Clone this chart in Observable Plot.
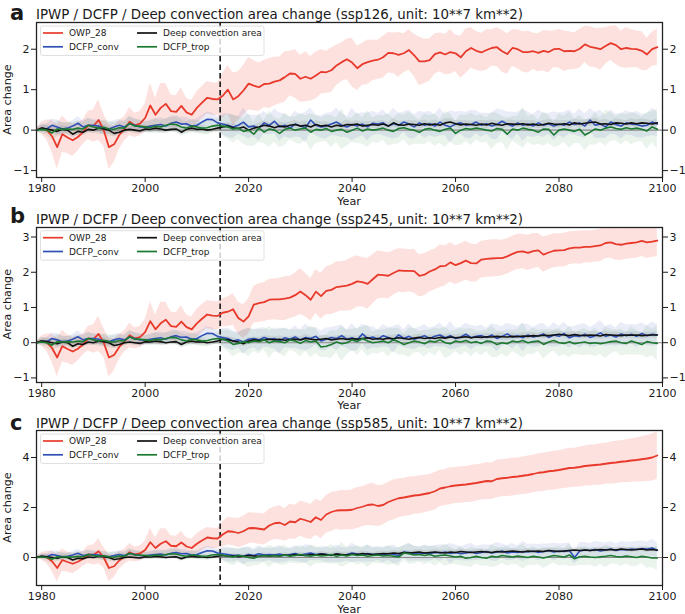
<!DOCTYPE html>
<html>
<head>
<meta charset="utf-8">
<script src="https://cdn.jsdelivr.net/npm/d3@7"></script>
<script src="https://cdn.jsdelivr.net/npm/@observablehq/plot@0.6"></script>
<style>
  body { margin: 0; background: #fff; }
  #root { position: relative; width: 685px; height: 614px; overflow: hidden; background: #fff; font-family: "DejaVu Sans", sans-serif; }
</style>
</head>
<body>
<div id="root"></div>
<script>
// ---------------- DATA (values in hundredths of 10**7 km**2) ----------------
const firstYear = 1979;          // first simulated year
const lastHistYear = 2014;       // end of historical period
const xTicks = [1980, 2000, 2020, 2040, 2060, 2080, 2100];
const seriesNames = ["OWP_28", "DCFP_conv", "Deep convection area", "DCFP_trop"];
const scenarios = ["ssp126", "ssp245", "ssp585"];

// Historical 1979-2014 (shared by all three panels)
const histOWP  = [0,5,0,-15,-42,-10,-18,-25,-17,-5, 12,10,25,0,-42,-35,-12,3,21,12, 16,30,61,38,55,65,47,45,60,44, 38,55,68,80,77,76];
const histConv = [0,5,3,12,8,3,5,10,17,8, 12,12,10,5,3,8,12,8,16,12, 8,7,10,12,14,10,17,20,15,16, 10,12,20,27,26,18];
const histDeep = [0,5,3,0,-3,2,0,-10,-3,-5, 2,0,5,3,0,-8,-5,0,2,0, -2,3,2,5,3,0,2,3,-5,2, 5,2,3,0,2,5];
const histTrop = [0,2,0,-7,3,2,3,2,5,3, 12,8,5,7,3,2,6,5,17,10, 10,8,6,10,8,12,15,14,8,5, 10,8,5,6,10,12];
// Historical spread (half-width of shading)
const histOWPsd  = [3,15,25,40,55,45,40,40,35,30, 35,40,50,40,55,45,35,30,35,30, 30,35,55,40,60,50,40,40,45,35, 35,40,40,40,40,40];
const histConvSd = [5,10,12,15,18,15,12,14,16,15, 18,14,15,17,14,16,15,14,17,16, 15,13,15,16,17,16,18,15,17,15, 14,16,17,18,16,15];
const histDeepSd = [3,6,8,9,10,8,9,10,9,8, 9,8,9,10,8,9,10,9,8,9, 8,9,8,9,10,9,8,9,10,9, 8,9,10,9,8,9];
const histTropSd = [5,10,14,18,20,16,15,17,18,16, 17,15,16,18,20,17,16,15,18,17, 16,14,15,18,16,17,15,20,18,16, 17,15,16,18,17,16];

// Future 2015-2099, ssp126
const owp126 = [85,100,76,84,98,115,110,106,114,115, 120,123,131,140,139,127,132,127,135,144, 143,148,160,168,175,167,153,163,168,172, 174,180,191,190,186,190,198,185,170,170, 173,188,192,187,193,190,180,195,203,196, 192,198,203,205,195,188,203,200,193,193, 195,191,196,193,200,201,195,196,195,201, 212,206,203,200,208,215,210,200,203,201, 200,196,187,200,205];
const conv126 = [15,12,8,12,20,8,10,5,18,12, 22,8,12,5,15,10,6,25,12,8, 10,15,20,12,8,14,10,15,8,17, 15,18,10,16,12,20,15,8,18,12, 16,10,20,12,8,15,18,12,14,20, 12,16,10,14,22,15,10,18,12,15, 10,18,12,16,10,15,12,20,14,18, 10,25,12,15,8,20,14,10,18,15, 14,10,12,20,15];
const deep126 = [8,10,6,4,8,0,5,8,12,10, 6,10,8,12,14,10,12,8,14,10, 12,8,12,10,14,13,15,10,12,14, 12,15,10,18,13,12,15,14,12,16, 13,15,12,18,20,16,13,15,14,12, 15,13,17,14,12,16,15,14,16,13, 15,12,14,17,15,14,16,13,18,15, 17,19,20,15,16,14,18,17,15,18, 16,18,17,15,18];
const trop126 = [10,8,3,5,-3,0,-10,5,-5,3, 0,-8,2,5,0,3,5,-5,2,0, 4,-3,0,2,-5,0,5,-2,3,0, 2,5,0,-3,4,6,2,0,-5,2, 4,0,-3,2,5,-8,0,4,2,5, 3,0,-2,4,2,-10,3,0,5,2, 0,-5,3,2,-12,0,3,0,-3,2, -12,-5,3,0,5,8,4,2,6,3, 5,2,-2,8,2];
const owpSd126 = [55,60,65,60,62,65,62,60,58,62, 60,58,62,55,60,58,62,55,58,55, 52,55,50,48,50,60,55,52,55,50, 48,52,50,50,55,48,50,52,60,55, 52,50,48,50,55,45,52,55,50,48, 47,50,45,48,52,50,45,48,50,52, 45,47,50,52,45,48,50,47,45,48, 45,50,48,52,45,42,48,45,50,47, 45,48,40,42,45];

// Future 2015-2099, ssp245
const owp245 = [85,88,95,70,60,75,108,112,115,122, 123,123,125,128,135,145,135,122,145,132, 147,150,158,160,162,167,174,172,167,180, 193,192,190,198,205,204,204,203,190,193, 202,208,217,218,228,220,226,233,226,225, 236,238,239,240,240,245,252,258,259,255, 260,262,250,256,261,262,263,268,270,270, 272,272,274,276,283,285,280,278,281,283, 285,289,285,287,290];
const conv245 = [15,12,5,8,2,10,12,8,15,10, 12,5,14,10,16,8,15,12,18,5, 10,15,12,20,10,14,8,25,12,16, 10,20,15,8,22,12,18,10,15,20, 12,18,22,14,20,12,16,24,14,18, 20,15,22,12,18,25,16,20,14,22, 16,20,25,15,22,18,26,14,20,18, 24,15,20,28,18,22,16,25,20,24, 18,26,20,24,22];
const deep245 = [10,8,5,2,-3,5,8,6,8,10, 8,10,7,9,10,8,12,10,8,10, 12,8,10,12,9,11,10,12,14,10, 12,10,13,11,14,12,10,13,15,12, 14,12,15,13,16,14,15,17,14,16, 15,17,16,18,17,16,18,17,19,18, 20,19,21,20,22,24,22,20,23,21, 20,22,21,19,23,22,21,20,22,21, 22,20,21,22,22];
const trop245 = [10,5,-5,-2,3,0,5,3,8,0, 5,3,0,8,5,-2,6,2,5,-12, -10,-5,2,-3,0,8,3,12,5,0, 2,5,0,8,3,-5,0,5,2,-3, 5,2,8,0,-3,5,2,6,0,3, -2,5,3,-5,0,-3,5,2,6,0, 3,5,-5,2,6,0,-2,3,-3,0, 2,-2,0,-3,0,3,5,0,-2,5, 0,-5,3,0,-2];
const owpSd245 = [40,42,45,45,48,50,52,55,55,58, 58,60,62,60,62,65,62,60,62,65, 68,70,72,70,72,75,73,70,72,70, 68,66,65,63,62,62,60,62,60,60, 58,58,60,57,56,55,55,55,54,53, 52,52,53,52,51,50,50,50,49,50, 50,48,50,48,48,47,48,47,46,47, 46,46,45,46,45,45,46,45,44,45, 45,44,45,45,45];

// Future 2015-2099, ssp585
const owp585 = [92,105,103,98,105,117,118,115,112,128, 137,139,130,144,141,155,149,142,161,150, 172,182,188,189,189,191,198,203,210,212, 206,210,222,230,237,240,244,248,250,254, 258,265,276,280,285,288,290,292,295,298, 302,306,305,314,317,319,322,324,327,330, 334,339,341,345,347,350,354,358,359,362, 366,368,370,372,375,378,380,383,385,388, 390,393,396,400,408];
const conv585 = [15,12,8,10,5,12,8,15,10,12, 10,14,8,12,16,10,14,18,12,15, 12,8,15,10,12,18,14,10,16,12, 14,10,16,12,8,22,20,16,14,18, 15,20,18,22,16,20,15,18,22,16, 20,24,18,22,26,18,22,20,24,22, 26,20,24,28,22,26,24,28,0,26, 30,28,32,26,30,34,28,32,30,34, 32,36,34,38,28];
const deep585 = [8,5,6,3,5,8,6,5,8,6, 8,6,10,8,12,10,8,12,10,14, 12,10,14,12,10,14,12,16,14,12, 14,16,15,18,16,20,18,20,22,18, 20,22,20,18,22,20,24,22,20,22, 24,22,20,24,22,24,26,24,22,26, 24,26,24,28,26,24,26,28,30,28, 30,28,30,32,30,32,30,34,32,30, 32,34,30,32,30];
const trop585 = [10,5,2,8,5,0,-3,5,8,5, 8,5,10,5,8,12,8,5,10,6, 8,12,5,10,6,12,8,10,5,8, 10,6,8,5,2,18,15,10,12,8, 12,5,8,10,6,2,5,-3,0,5, 0,-3,5,2,8,5,2,6,3,0, 5,2,-2,3,8,5,2,10,-5,3, 5,2,0,3,5,8,4,2,6,3, 0,5,2,-2,-2];
const owpSd585 = [50,55,55,58,60,62,60,62,62,65, 65,68,65,70,68,70,72,70,72,75, 75,78,75,80,78,80,82,80,82,85, 82,80,78,80,78,76,78,75,76,75, 74,75,73,72,74,72,73,72,74,73, 72,74,73,75,74,75,76,74,75,76, 75,76,77,76,78,77,78,79,78,80, 80,82,81,83,82,84,85,84,86,87, 88,90,92,94,95];

// Future spread of the three convection series (2015-2099)
const futConvSd = [25,30,28,22,35,30,26,32,28,24, 30,35,28,26,32,28,38,30,25,28, 32,28,35,30,26,40,30,28,34,30, 26,32,28,38,30,25,35,30,28,32, 30,28,34,26,40,30,28,32,35,28, 30,26,32,38,28,30,34,26,40,30, 28,32,30,26,35,28,32,30,26,34, 30,28,32,35,28,30,26,32,30,28, 32,30,28,34,30];
const futTropSd = [25,30,35,28,32,40,30,35,28,45, 30,35,40,28,32,38,30,45,35,30, 32,40,30,50,35,30,38,32,45,30, 35,30,40,32,38,30,42,35,30,38, 32,40,30,45,35,30,38,32,40,30, 35,30,45,38,32,40,30,35,50,32, 38,30,42,35,30,40,32,45,30,35, 38,32,40,30,45,35,30,38,32,40, 35,30,45,38,50];
const futDeepSd = [8,9,10,8,9,10,8,9,11,9, 8,10,9,8,10,9,11,8,9,10, 9,8,10,9,11,8,9,10,9,8, 10,9,8,11,9,10,8,9,10,9, 8,10,9,11,9,8,10,9,8,10, 9,10,8,9,11,9,10,8,9,10, 9,8,10,9,11,9,8,10,9,10, 8,9,10,9,11,8,10,9,8,10, 9,10,9,8,10];

// ---------------- STYLE / LAYOUT ----------------
const colors = {"OWP_28": "#e8392b", "DCFP_conv": "#3050b8", "Deep convection area": "#111111", "DCFP_trop": "#1b7a30"};
const bandOpacity = {"OWP_28": 0.15, "DCFP_conv": 0.1, "Deep convection area": 0.08, "DCFP_trop": 0.09};
const W = 685, mL = 36, mR = 23, mT = 4, mB = 30, frameH = 155;

const panels = [
  {letter: "a", scen: scenarios[0], owp: owp126, conv: conv126, deep: deep126, trop: trop126, owpSd: owpSd126,
   yDomain: [-1.17, 2.66], yTicks: [-1, 0, 1, 2], top: 22, letterY: 19.5, titleY: 19},
  {letter: "b", scen: scenarios[1], owp: owp245, conv: conv245, deep: deep245, trop: trop245, owpSd: owpSd245,
   yDomain: [-1.13, 3.27], yTicks: [-1, 0, 1, 2, 3], top: 226.7, letterY: 222.5, titleY: 224.3},
  {letter: "c", scen: scenarios[2], owp: owp585, conv: conv585, deep: deep585, trop: trop585, owpSd: owpSd585,
   yDomain: [-1.12, 5.08], yTicks: [0, 2, 4], top: 430, letterY: 429.5, titleY: 428.3}
];

function build(hist, fut, histSd, futSd) {
  const v = hist.concat(fut), s = histSd.concat(futSd);
  return v.map((d, i) => ({year: firstYear + i, v: d / 100, lo: (d - s[i]) / 100, hi: (d + s[i]) / 100}));
}

const root = d3.select("#root");

panels.forEach(p => {
  const series = [
    {name: "OWP_28", rows: build(histOWP, p.owp, histOWPsd, p.owpSd), w: 1.8},
    {name: "DCFP_conv", rows: build(histConv, p.conv, histConvSd, futConvSd), w: 1.6},
    {name: "Deep convection area", rows: build(histDeep, p.deep, histDeepSd, futDeepSd), w: 1.6},
    {name: "DCFP_trop", rows: build(histTrop, p.trop, histTropSd, futTropSd), w: 1.6}
  ];
  const marks = [];
  series.forEach(s => marks.push(Plot.areaY(s.rows, {x: "year", y1: "lo", y2: "hi", fill: colors[s.name], fillOpacity: bandOpacity[s.name], clip: true})));
  marks.push(Plot.ruleY([0], {stroke: "#8a8a8a", strokeWidth: 1.1}));
  marks.push(Plot.ruleX([lastHistYear + 0.5], {stroke: "#222", strokeWidth: 1.7, strokeDasharray: "5.5,3"}));
  series.forEach(s => marks.push(Plot.lineY(s.rows, {x: "year", y: "v", stroke: colors[s.name], strokeWidth: s.w, clip: true})));
  marks.push(Plot.frame({stroke: "#222", strokeWidth: 1.3}));
  marks.push(Plot.axisX({ticks: xTicks, tickFormat: d => String(d), tickSize: 5, tickPadding: 2, label: null}));
  marks.push(Plot.axisY({anchor: "left", ticks: p.yTicks, tickFormat: d3.format("d"), tickSize: 5, tickPadding: 2, label: null}));
  marks.push(Plot.axisY({anchor: "right", ticks: p.yTicks, tickFormat: d3.format("d"), tickSize: 5, tickPadding: 2, label: null}));

  const chart = Plot.plot({
    width: W, height: mT + frameH + mB,
    marginLeft: mL, marginRight: mR, marginTop: mT, marginBottom: mB,
    x: {domain: [firstYear, 2100]},
    y: {domain: p.yDomain},
    style: {fontFamily: "DejaVu Sans, sans-serif", fontSize: "11px", color: "#1a1a1a", background: "transparent", overflow: "visible"},
    marks
  });
  chart.style.position = "absolute";
  chart.style.left = "0px";
  chart.style.top = (p.top - mT) + "px";
  root.node().appendChild(chart);
});

// ---------------- TEXT OVERLAY ----------------
const ov = root.append("svg").attr("width", W).attr("height", 614)
  .style("position", "absolute").style("left", "0px").style("top", "0px")
  .style("font-family", "DejaVu Sans, sans-serif").attr("fill", "#1a1a1a");

const legendLayout = [
  {name: seriesNames[0], col: 0, row: 0},
  {name: seriesNames[1], col: 0, row: 1},
  {name: seriesNames[2], col: 1, row: 0},
  {name: seriesNames[3], col: 1, row: 1}
];
const colX = [43, 137];

panels.forEach(p => {
  const bottom = p.top + frameH;
  ov.append("text").attr("x", 10).attr("y", p.letterY).attr("font-size", 21).attr("font-weight", "bold").text(p.letter);
  ov.append("text").attr("x", 36).attr("y", p.titleY).attr("font-size", 13.4)
    .text(`IPWP / DCFP / Deep convection area change (${p.scen}, unit: 10**7 km**2)`);
  ov.append("text").attr("transform", `translate(10.5,${p.top + frameH / 2}) rotate(-90)`)
    .attr("text-anchor", "middle").attr("font-size", 11.2).text("Area change");
  ov.append("text").attr("x", 349).attr("y", bottom + 27.5).attr("text-anchor", "middle").attr("font-size", 11.2).text("Year");
  // legend
  ov.append("rect").attr("x", 40.5).attr("y", p.top + 4).attr("width", 223.5).attr("height", 29.5)
    .attr("rx", 2).attr("fill", "#fff").attr("fill-opacity", 0.8).attr("stroke", "#d8d8d8").attr("stroke-width", 0.8);
  legendLayout.forEach(e => {
    const y = p.top + 11 + e.row * 13.8;
    const x0 = colX[e.col];
    ov.append("line").attr("x1", x0).attr("x2", x0 + 20).attr("y1", y).attr("y2", y)
      .attr("stroke", colors[e.name]).attr("stroke-width", 1.7);
    ov.append("text").attr("x", x0 + 26).attr("y", y).attr("dy", "0.35em").attr("font-size", 9).text(e.name);
  });
});
</script>
</body>
</html>
